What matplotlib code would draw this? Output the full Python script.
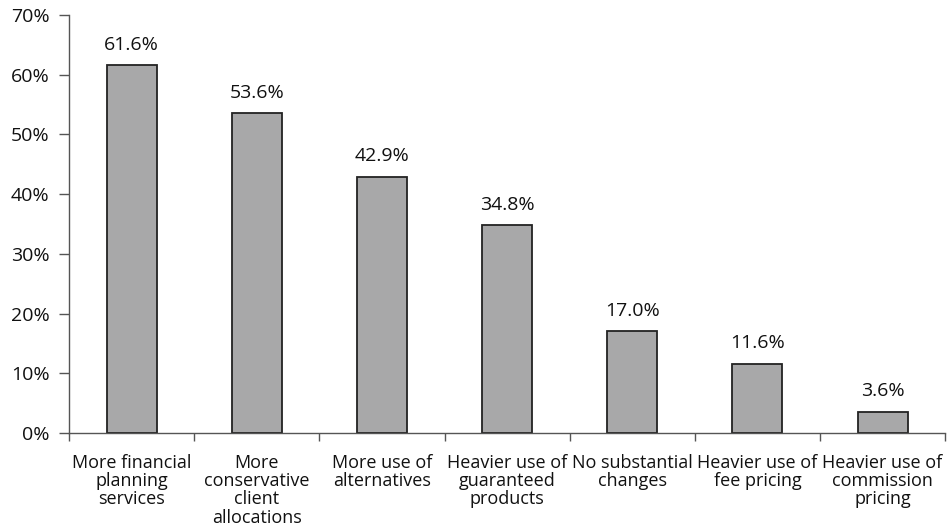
import matplotlib
matplotlib.use("Agg")
import matplotlib.pyplot as plt
import numpy as np
from matplotlib.ticker import FixedLocator, PercentFormatter

categories = ["More financial\nplanning\nservices",
              "More\nconservative\nclient\nallocations",
              "More use of\nalternatives",
              "Heavier use of\nguaranteed\nproducts",
              "No substantial\nchanges",
              "Heavier use of\nfee pricing",
              "Heavier use of\ncommission\npricing"]
values = [61.6, 53.6, 42.9, 34.8, 17.0, 11.6, 3.6]
yticks = [0, 10, 20, 30, 40, 50, 60, 70]

FS = 13
FN = 14
plt.rcParams['font.family'] = ['Open Sans', 'DejaVu Sans']
fig = plt.figure(figsize=(9.48, 5.26), dpi=100)
ax = fig.add_axes([0.0728, 0.1768, 0.9242, 0.7947])

x = np.arange(len(values))
ax.bar(x, values, width=0.4, color="#a8a8a9", edgecolor="#222222", linewidth=1.3)
for xi, v in zip(x, values):
    ax.text(xi, v + 1.9, f"{v:.1f}%", ha="center", va="bottom", fontsize=FN, color="#111111")

ax.set_xlim(-0.5, len(values) - 0.5)
ax.set_ylim(0, 70)
ax.set_yticks(yticks)
ax.yaxis.set_major_formatter(PercentFormatter(decimals=0))
ax.set_xticks(x)
ax.set_xticklabels(categories, fontsize=FS, linespacing=1.02, color="#111111")
ax.xaxis.set_minor_locator(FixedLocator(np.arange(-0.5, len(values), 1.0)))
ax.tick_params(axis="x", which="major", length=0, pad=15)
ax.tick_params(axis="x", which="minor", length=6, color="#555555", width=1)
ax.tick_params(axis="y", length=7, color="#555555", width=1, labelsize=FN, labelcolor="#111111", pad=7)

for s in ["top", "right"]:
    ax.spines[s].set_visible(False)
for s in ["left", "bottom"]:
    ax.spines[s].set_color("#555555")
    ax.spines[s].set_linewidth(1)

fig.savefig("out.png", dpi=100)
